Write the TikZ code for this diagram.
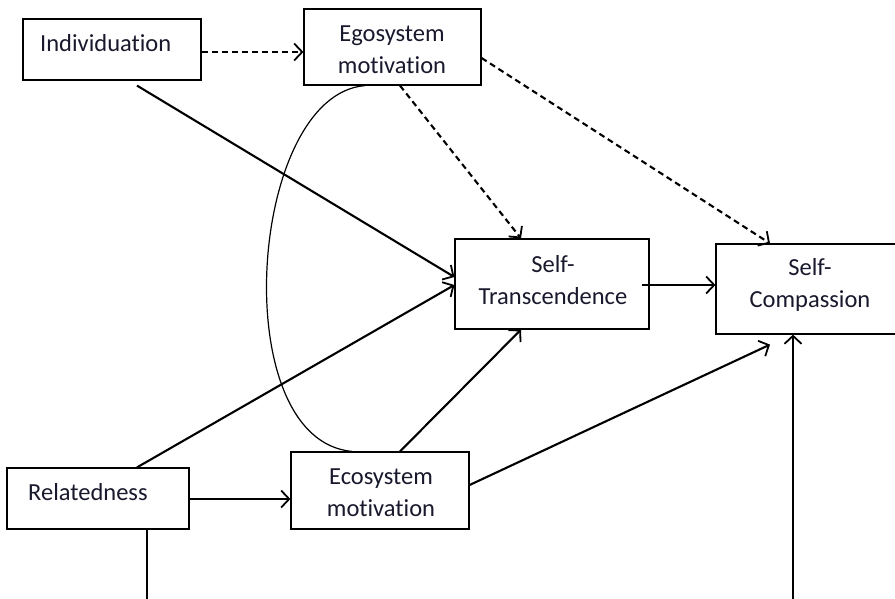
\documentclass[tikz,border=0pt]{standalone}
\usepackage{fontspec}
\setmainfont[Ligatures=NoCommon]{Carlito}
\usetikzlibrary{arrows.meta,calc}

\definecolor{ink}{RGB}{25,25,45}

\tikzset{
  box/.style={draw=black, line width=1.2pt, rectangle, inner sep=0pt},
  txt/.style={text=ink, font=\fontsize{24.5}{32}\selectfont, align=center, inner sep=0pt},
  path/.style={line width=2.1pt, -{Straight Barb[length=8pt,width=17pt,line width=1.8pt]}},
  dpath/.style={path, dash pattern=on 6pt off 4pt},
}

\begin{document}
\begin{tikzpicture}[x=1pt,y=-1pt]
\useasboundingbox (0,0) rectangle (895,599);
\fill[white] (0,0) rectangle (895,599);

% boxes
\node[box, minimum width=178pt, minimum height=61pt] (ind) at (112,49.5) {};
\node[txt, anchor=west] (indtxt) at (40,43) {Individuation};

\node[box, minimum width=177pt, minimum height=76pt] (ego) at (392.5,47) {};
\node[txt] (egotxt) at (392,49.5) {Egosystem\\motivation};

\node[box, minimum width=194pt, minimum height=90pt] (st) at (552,284) {};
\node[txt] (sttxt) at (553,280.5) {Self-\\Transcendence};

\node[box, minimum width=184pt, minimum height=90pt] (sc) at (808,289) {};
\node[txt] (sctxt) at (810,284.5) {Self-\\Compassion};

\node[box, minimum width=182pt, minimum height=61pt] (rel) at (98,498.5) {};
\node[txt, anchor=west] (reltxt) at (28,492) {Relatedness};

\node[box, minimum width=178pt, minimum height=77pt] (eco) at (380,490.5) {};
\node[txt] (ecotxt) at (381,492.5) {Ecosystem\\motivation};

% correlation between the two motivations
\draw[line width=1.2pt] ([xshift=-27.5pt]ego.south)
  .. controls (248,95) and (225,440) .. ([xshift=-28pt]eco.north);

% dashed paths
\draw[dpath] ([yshift=-2.5pt]ind.east) -- ([yshift=-5pt]ego.west);
\draw[dpath] ([xshift=7.5pt]ego.south) -- ([xshift=-31pt]st.north);
\draw[dpath] ([yshift=-11pt]ego.east) -- ([xshift=-38pt]sc.north);

% solid paths
\draw[path] ([xshift=25pt,yshift=-5pt]ind.south) -- ([yshift=7pt]st.west);
\draw[path] ([xshift=39pt]rel.north) -- ([yshift=-1pt]st.west);
\draw[path] ([xshift=20pt]eco.north) -- ([xshift=-31pt]st.south);
\draw[path, line width=2.8pt] ([yshift=-0.5pt]rel.east) -- ([yshift=-8.5pt]eco.west);
\draw[path] ([xshift=-8pt,yshift=-1pt]st.east) -- ([yshift=4pt]sc.west);
\draw[path] ([yshift=5.5pt]eco.east) -- ([xshift=-38pt,yshift=-10pt]sc.south);

% lower path leaving the frame
\coordinate (relout) at (147,602);
\coordinate (scin) at (793,602);
\draw[line width=1.2pt] ([xshift=49pt]rel.south) -- (relout);
\draw[path] (scin) -- ([xshift=-15pt]sc.south);
\end{tikzpicture}
\end{document}
